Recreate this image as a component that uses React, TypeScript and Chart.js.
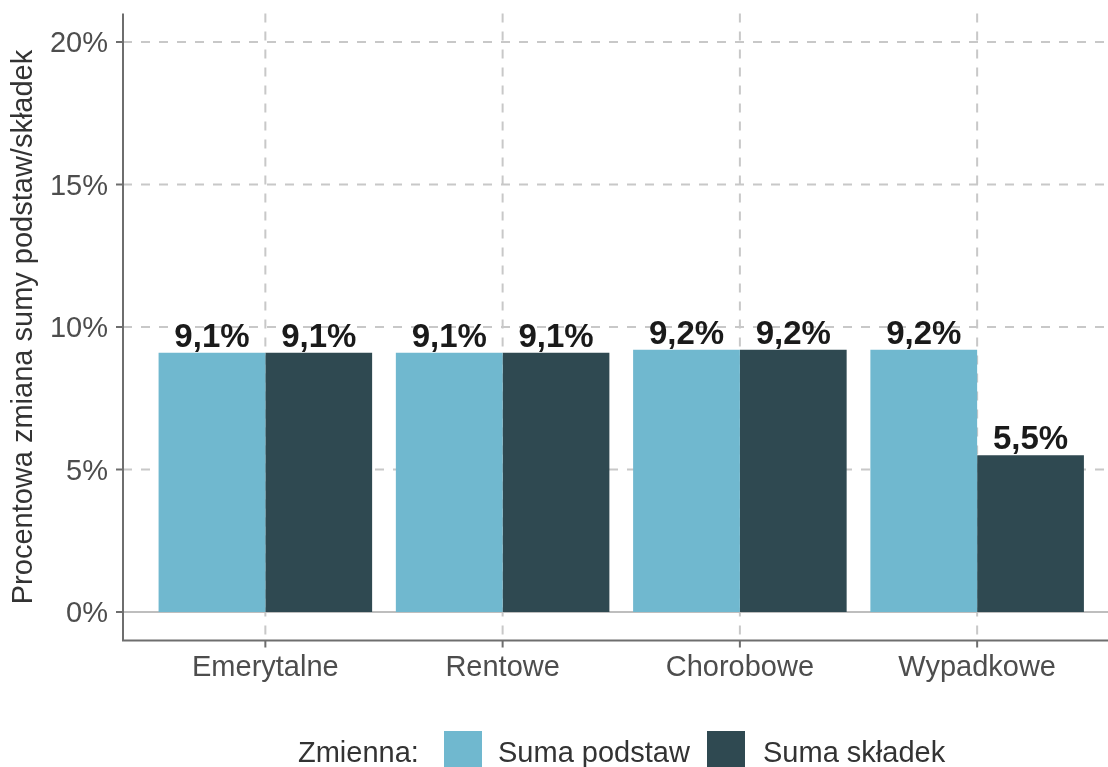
import React, { useEffect, useRef } from "react";
import { Chart, registerables } from "chart.js";

Chart.register(...registerables);

const categories = ["Emerytalne", "Rentowe", "Chorobowe", "Wypadkowe"];
const seriesNames = ["Suma podstaw", "Suma składek"];
const sumaPodstaw = [9.1, 9.1, 9.2, 9.2];
const sumaSkladek = [9.1, 9.1, 9.2, 5.5];
const yTicks = [0, 5, 10, 15, 20];
const yTickLabels = ["0%", "5%", "10%", "15%", "20%"];
const colors = ["#70b8cf", "#2f4951"];
const legendTitle = "Zmienna:";
const yTitle = "Procentowa zmiana sumy podstaw/składek";

const FONT = "'Liberation Sans', Arial, sans-serif";

const fmt = (v: number) => v.toFixed(1).replace(".", ",") + "%";

const overlay = {
  id: "overlay",
  beforeDatasetsDraw(chart: any) {
    const { ctx, chartArea: ca, scales } = chart;
    const x = scales.x;
    const y = scales.y;
    ctx.save();
    ctx.lineWidth = 2;
    ctx.strokeStyle = "#c8c8c8";
    ctx.setLineDash([9, 9]);
    for (const t of yTicks) {
      if (t === 0) continue;
      const py = y.getPixelForValue(t);
      ctx.beginPath();
      ctx.moveTo(ca.left, py);
      ctx.lineTo(ca.right, py);
      ctx.stroke();
    }
    categories.forEach((_, i) => {
      const px = x.getPixelForValue(i);
      ctx.beginPath();
      ctx.moveTo(px, ca.top);
      ctx.lineTo(px, ca.bottom);
      ctx.stroke();
    });
    ctx.setLineDash([]);
    ctx.strokeStyle = "#bebebe";
    const p0 = y.getPixelForValue(0);
    ctx.beginPath();
    ctx.moveTo(ca.left, p0);
    ctx.lineTo(ca.right, p0);
    ctx.stroke();
    ctx.restore();
  },
  afterDatasetsDraw(chart: any) {
    const { ctx, chartArea: ca, scales } = chart;
    const x = scales.x;
    const y = scales.y;
    ctx.save();
    // axis lines
    ctx.strokeStyle = "#6e6e6e";
    ctx.lineWidth = 2;
    ctx.beginPath();
    ctx.moveTo(ca.left, ca.top);
    ctx.lineTo(ca.left, ca.bottom);
    ctx.lineTo(ca.right, ca.bottom);
    ctx.stroke();
    // y ticks
    ctx.fillStyle = "#4d4d4d";
    ctx.font = `29px ${FONT}`;
    ctx.textAlign = "right";
    ctx.textBaseline = "alphabetic";
    yTicks.forEach((t, i) => {
      const py = y.getPixelForValue(t);
      ctx.beginPath();
      ctx.moveTo(ca.left - 7, py);
      ctx.lineTo(ca.left, py);
      ctx.stroke();
      ctx.fillText(yTickLabels[i], ca.left - 15, py + 10);
    });
    // x ticks
    ctx.textAlign = "center";
    categories.forEach((c, i) => {
      const px = x.getPixelForValue(i);
      ctx.beginPath();
      ctx.moveTo(px, ca.bottom);
      ctx.lineTo(px, ca.bottom + 7);
      ctx.stroke();
      ctx.fillText(c, px, ca.bottom + 35);
    });
    // y title
    ctx.save();
    ctx.fillStyle = "#333333";
    ctx.translate(32, (ca.top + ca.bottom) / 2);
    ctx.rotate(-Math.PI / 2);
    ctx.textAlign = "center";
    ctx.fillText(yTitle, 0, 0);
    ctx.restore();
    // value labels
    ctx.fillStyle = "#1a1a1a";
    ctx.font = `bold 33px ${FONT}`;
    ctx.textAlign = "center";
    chart.data.datasets.forEach((ds: any, di: number) => {
      const meta = chart.getDatasetMeta(di);
      meta.data.forEach((el: any, i: number) => {
        ctx.fillText(fmt(ds.data[i].y), el.x, el.y - 6);
      });
    });
    // legend
    ctx.font = `29px ${FONT}`;
    ctx.fillStyle = "#333333";
    ctx.textAlign = "left";
    const base = 762;
    ctx.fillText(legendTitle, 298, base);
    const boxX = [444, 707];
    const txtX = [498, 763];
    seriesNames.forEach((n, i) => {
      ctx.fillStyle = colors[i];
      ctx.fillRect(boxX[i], 731, 38, 38);
      ctx.fillStyle = "#333333";
      ctx.fillText(n, txtX[i], base);
    });
    ctx.restore();
  },
};

export default function App() {
  const ref = useRef<HTMLCanvasElement | null>(null);
  useEffect(() => {
    if (!ref.current) return;
    const chart = new Chart(ref.current, {
      type: "bar",
      data: {
        datasets: [sumaPodstaw, sumaSkladek].map((vals, di) => ({
          label: seriesNames[di],
          data: vals.map((v, i) => ({ x: i, y: v })),
          backgroundColor: colors[di],
          borderWidth: 0,
          categoryPercentage: 0.9,
          barPercentage: 1.0,
        })),
      },
      options: {
        animation: false,
        responsive: false,
        events: [],
        layout: { padding: { top: 13.5, right: 10.5, left: 0, bottom: 0 } },
        plugins: { legend: { display: false }, tooltip: { enabled: false } },
        scales: {
          x: {
            type: "linear",
            min: -0.6,
            max: 3.6,
            offset: false,
            grid: { display: false, offset: false },
            border: { display: false },
            ticks: { display: false },
            afterBuildTicks: (s: any) => {
              s.ticks = categories.map((_, i) => ({ value: i }));
            },
            afterFit: (s: any) => {
              s.height = 126.5;
            },
          },
          y: {
            type: "linear",
            min: -1,
            max: 21,
            grid: { display: false },
            border: { display: false },
            ticks: { display: false },
            afterFit: (s: any) => {
              s.width = 123;
            },
          },
        },
      },
      plugins: [overlay],
    } as any);
    return () => chart.destroy();
  }, []);
  return (
    <div
      style={{
        position: "fixed",
        left: 0,
        top: 0,
        width: 1108,
        height: 767,
        overflow: "hidden",
        background: "#ffffff",
      }}
    >
      <canvas ref={ref} width={1130} height={767} style={{ display: "block" }} />
    </div>
  );
}
